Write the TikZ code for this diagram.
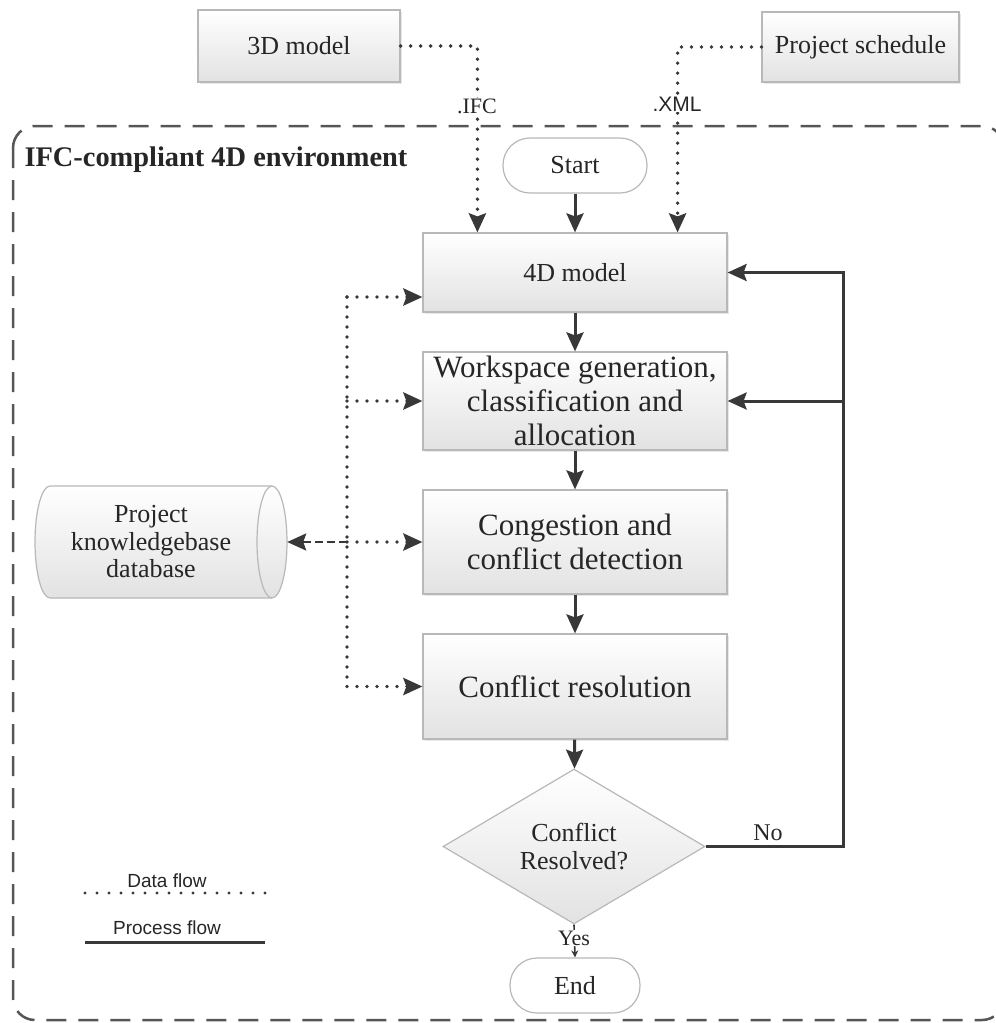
\documentclass[tikz,border=0pt]{standalone}
\usepackage{fontspec}
\setmainfont{Liberation Serif}
\setsansfont{Liberation Sans}
\usetikzlibrary{arrows.meta,shapes.geometric,calc,shadows}

\definecolor{ink}{HTML}{383838}
\definecolor{edge}{HTML}{B8B8B8}
\definecolor{fillbot}{HTML}{E2E2E2}
\definecolor{txt}{HTML}{262626}

\begin{document}
\begin{tikzpicture}[x=1pt,y=-1pt,
  every node/.style={text=txt},
  box/.style={draw=edge, line width=1.2pt, top color=white, bottom color=fillbot,
    drop shadow={shadow xshift=1.5pt,shadow yshift=-1.5pt,opacity=0.18},
    inner sep=0pt, align=center},
  term/.style={draw=edge, line width=1.2pt, fill=white, rounded corners=27pt,
    inner sep=0pt, align=center},
  small/.style={font=\fontsize{26}{28}\selectfont},
  large/.style={font=\fontsize{31}{34}\selectfont},
  tip/.style={-{Stealth[length=19pt,width=17pt,inset=3pt]}},
  proc/.style={draw=ink, line width=3pt},
  data/.style={draw=ink, line width=3.8pt, line cap=round, dash pattern=on 0pt off 10pt},
  frame/.style={draw=ink!85, line width=2.5pt, dash pattern=on 20pt off 12pt}
]
\useasboundingbox (0,0) rectangle (996,1023);

% dashed environment frame
\draw[frame, rounded corners=22pt] (13,126) rectangle (1004,1020);
\node[anchor=west, font=\fontsize{28.4}{30}\selectfont\bfseries] (env) at (21,160)
  {IFC-compliant 4D environment};

% external inputs
\node[box, small, minimum width=202, minimum height=72] (m3) at (299,46) {3D model};
\node[box, small, minimum width=197, minimum height=70] (ps) at (860.5,47) {Project schedule};

% process chain
\node[term, small, minimum width=144, minimum height=55] (st) at (575,165.5) {Start};
\node[box, small, minimum width=304, minimum height=79] (m4) at (575,272.5) {4D model};
\node[box, large, minimum width=304, minimum height=98] (ws) at (575,401)
  {Workspace generation,\\classification and\\allocation};
\node[box, large, minimum width=304, minimum height=104] (cg) at (575,542)
  {Congestion and\\conflict detection};
\node[box, large, minimum width=304, minimum height=105] (cr) at (575,686.5)
  {Conflict resolution};
\node[diamond, draw=edge, line width=1.2pt, top color=white, bottom color=fillbot,
  minimum width=262, minimum height=141, inner sep=0pt, align=center,
  font=\fontsize{26}{28}\selectfont] (dia) at (574,846.5) {Conflict\\Resolved?};
\node[term, small, minimum width=130, minimum height=55] (en) at (575,985.5) {End};

% knowledge base cylinder (y grows downwards here)
\node[minimum width=252, minimum height=112, inner sep=0pt] (db) at (161,542) {};
\shade[top color=white, bottom color=fillbot, draw=edge, line width=1.2pt]
  (50,486) -- (272,486) arc[start angle=-90, end angle=90, x radius=15, y radius=56]
  -- (50,598) arc[start angle=90, end angle=270, x radius=15, y radius=56] -- cycle;
\draw[edge, line width=1.2pt] (272,486) arc[start angle=270, end angle=90, x radius=15, y radius=56];
\node[align=center, font=\fontsize{26}{27.5}\selectfont] (dbt) at (151,542)
  {Project\\knowledgebase\\database};

% process flow
\draw[proc, tip] (st) -- (m4);
\draw[proc, tip] (m4) -- (ws);
\draw[proc, tip] (ws) -- (cg);
\draw[proc, tip] (cg) -- (cr);
\draw[proc, tip] (cr) -- (dia);
\coordinate (fb) at (843,846.5);
\draw[proc, tip, line join=miter] (dia.east) -- (fb) |- (m4.east);
\draw[proc, tip] (fb |- ws.east) -- (ws.east);
\node[font=\fontsize{24}{26}\selectfont] (no) at (768,833) {No};
\draw[ink, line width=1.6pt, -{Stealth[length=7pt,width=7pt]}] (dia.south) -- (en.north);
\node[fill=white, inner sep=1pt, font=\fontsize{22}{24}\selectfont] (yes) at (574,938) {Yes};

% data flow from the inputs
\draw[data, tip] (m3.east) -| ($(m4.north west)+(55,0)$);
\draw[data, tip] (ps.west) -| ($(m4.north east)+(-50,0)$);
\node[fill=white, inner sep=1pt, font=\fontsize{22}{24}\selectfont] (ifc) at (477,106) {.IFC};
\node[fill=white, inner sep=1pt, font=\sffamily\fontsize{21}{23}\selectfont] (xml) at (677,104) {.XML};

% data flow between the knowledge base and the steps
\coordinate (bt) at (347,297);
\coordinate (bb) at (347,686.5);
\draw[data] (bt) -- (bb);
\draw[data, tip] (bt) -- (bt -| m4.west);
\draw[data, tip] (bt |- ws.west) -- (ws.west);
\draw[data, tip] (bt |- cg.west) -- (cg.west);
\draw[data, tip] (bb) -- (cr.west);
\draw[ink, line width=2.5pt, dash pattern=on 8pt off 4pt, tip] (bt |- db.east) -- (db.east);

% legend
\coordinate (l1a) at (85,893);
\coordinate (l1b) at (265,893);
\coordinate (l2a) at (85,942);
\coordinate (l2b) at (265,942);
\draw[data, line width=3.2pt, dash pattern=on 0pt off 12pt] (l1a) -- (l1b);
\draw[proc] (l2a) -- (l2b);
\node[font=\sffamily\fontsize{19}{21}\selectfont] (ld) at (167,881) {Data flow};
\node[font=\sffamily\fontsize{19}{21}\selectfont] (lp) at (167,928) {Process flow};
\end{tikzpicture}
\end{document}
